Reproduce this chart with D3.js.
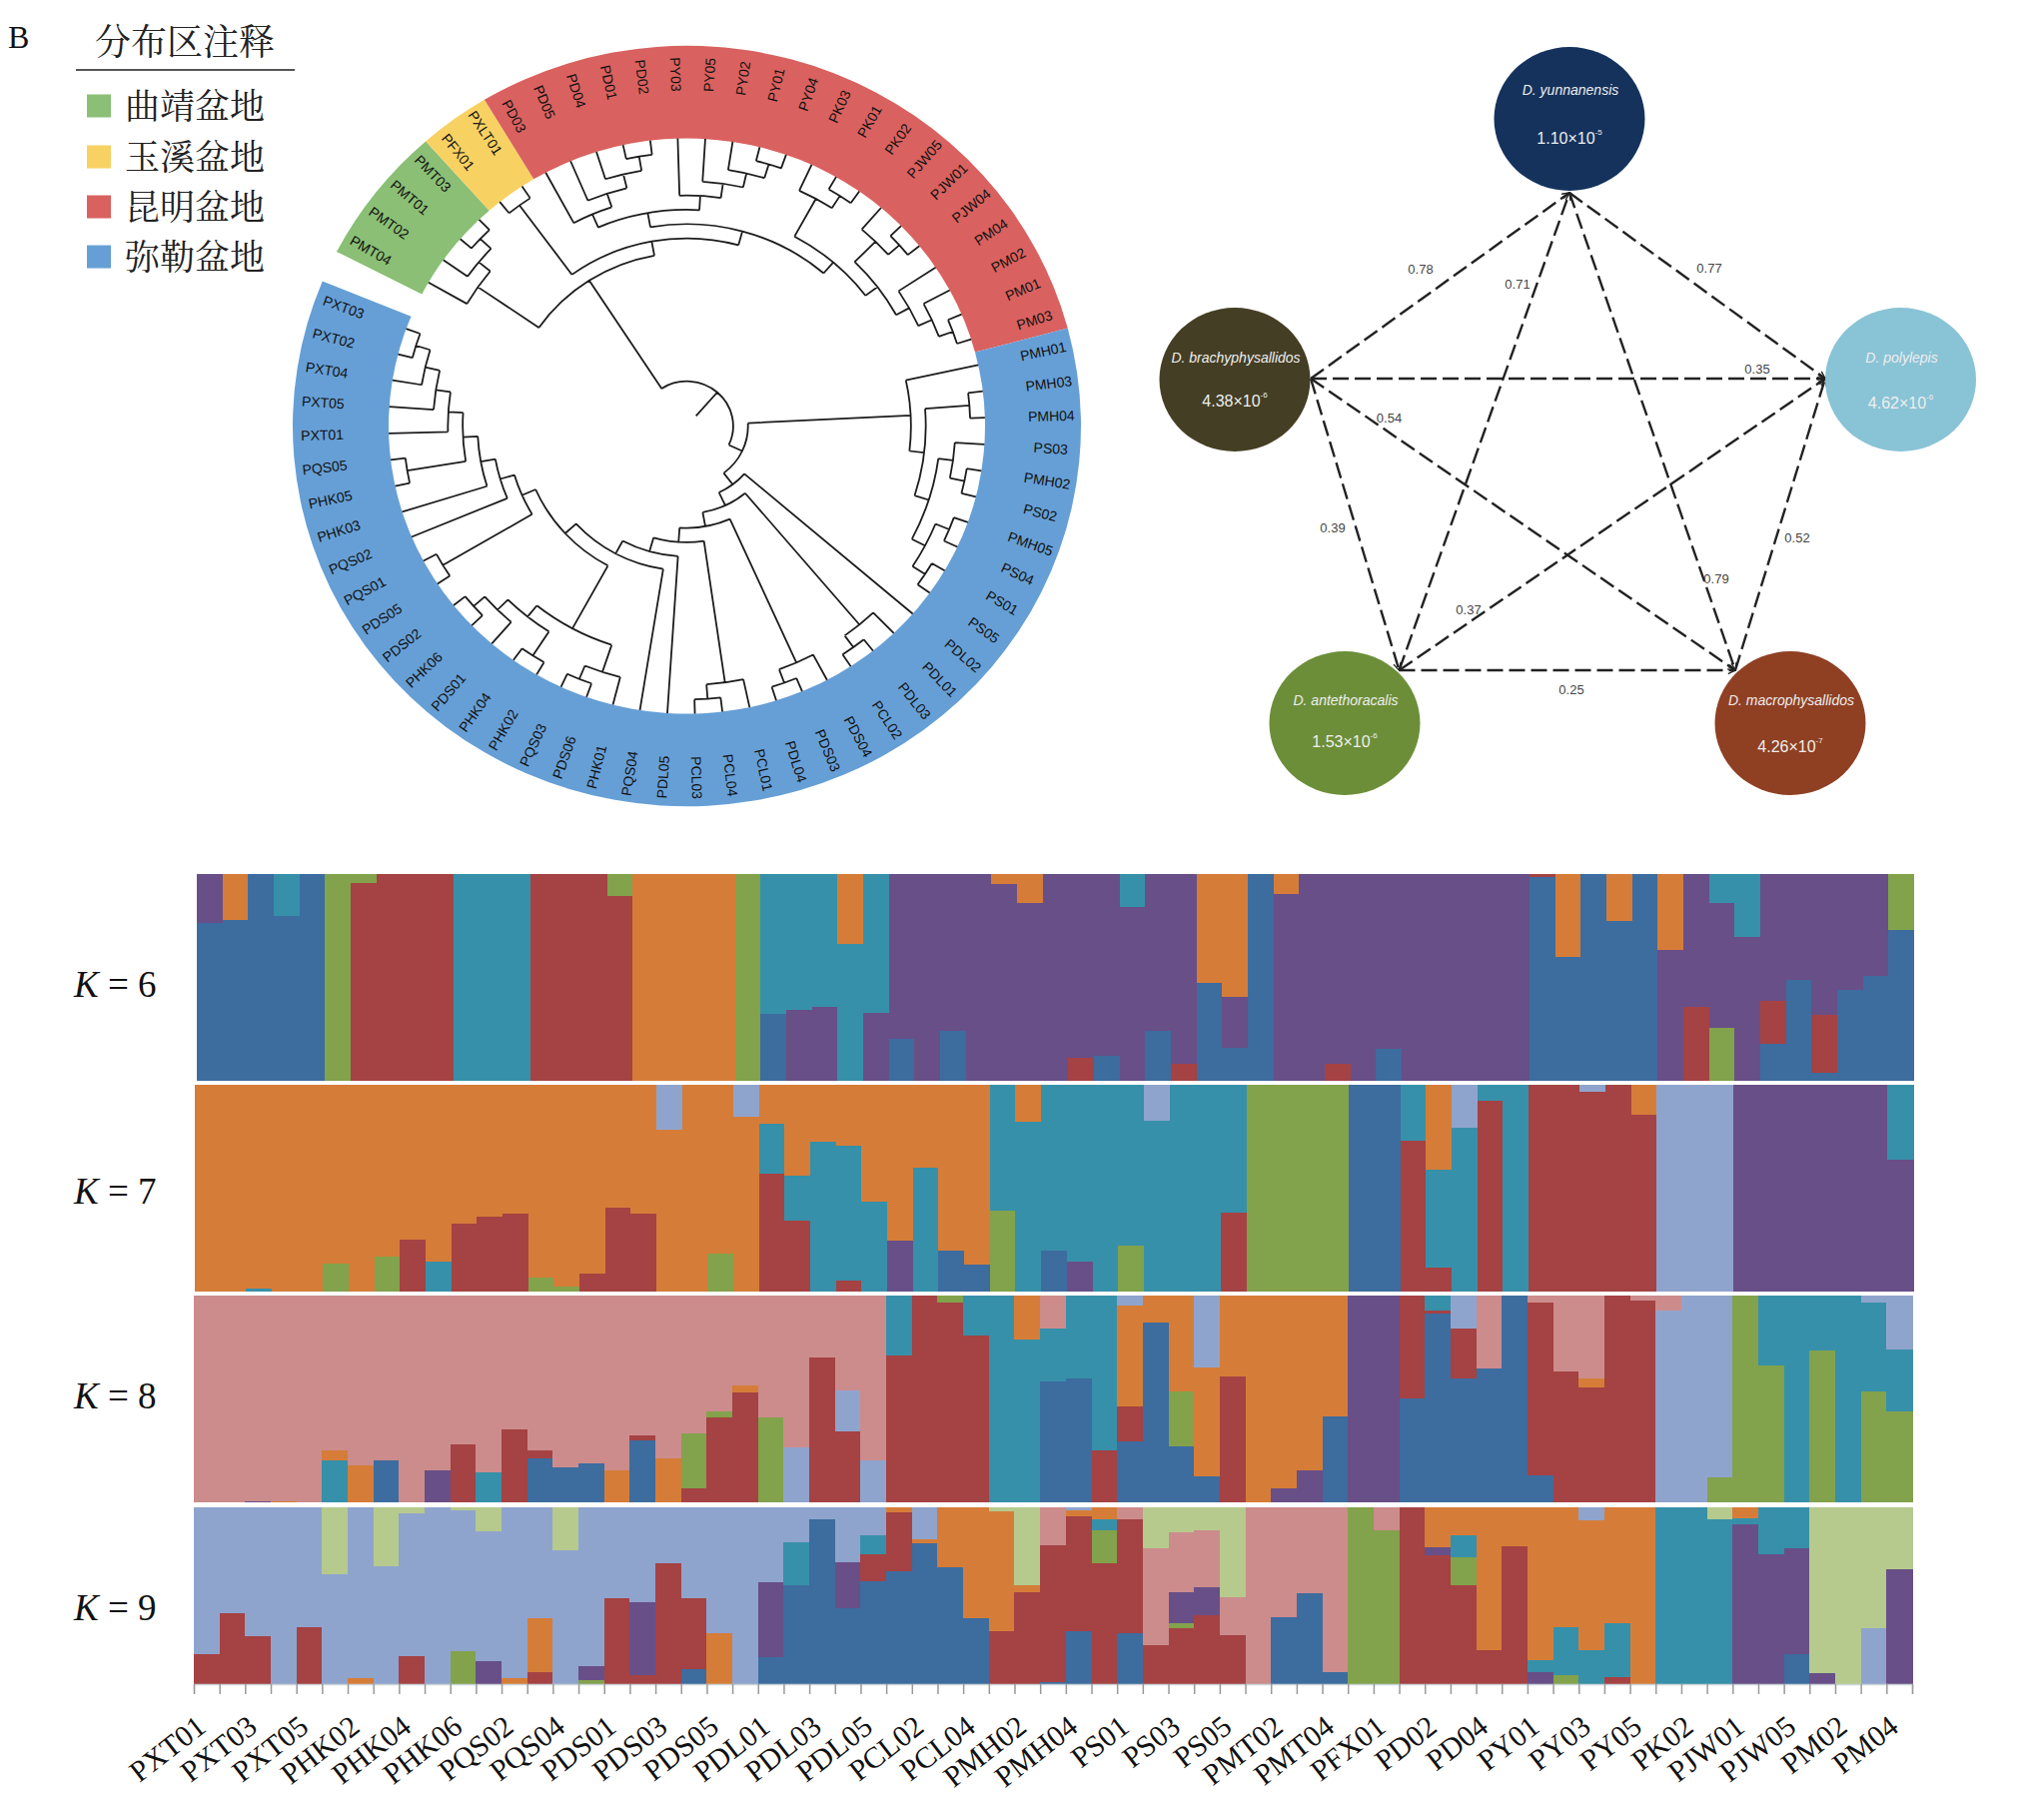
<!DOCTYPE html>
<html><head><meta charset="utf-8">
<script src="https://cdn.jsdelivr.net/npm/d3@7"></script>
<style>html,body{margin:0;background:#fff}svg{display:block}</style></head>
<body><svg id="c" width="2046" height="1799"></svg>
<script>
// ---------- DATA ----------
const sampleIds = ["PXT01","PXT02","PXT03","PXT04","PXT05","PHK01","PHK02","PHK03","PHK04","PHK05","PHK06","PQS01","PQS02","PQS03","PQS04","PQS05","PDS01","PDS02","PDS03","PDS04","PDS05","PDS06","PDL01","PDL02","PDL03","PDL04","PDL05","PCL01","PCL02","PCL03","PCL04","PMH01","PMH02","PMH03","PMH04","PMH05","PS01","PS02","PS03","PS04","PS05","PMT01","PMT02","PMT03","PMT04","PXLT01","PFX01","PD01","PD02","PD03","PD04","PD05","PY01","PY02","PY03","PY04","PY05","PK01","PK02","PK03","PJW01","PJW04","PJW05","PM01","PM02","PM03","PM04"];
const tickLabels = ["PXT01","PXT03","PXT05","PHK02","PHK04","PHK06","PQS02","PQS04","PDS01","PDS03","PDS05","PDL01","PDL03","PDL05","PCL02","PCL04","PMH02","PMH04","PS01","PS03","PS05","PMT02","PMT04","PFX01","PD02","PD04","PY01","PY03","PY05","PK02","PJW01","PJW05","PM02","PM04"];
// Each column, top to bottom: cluster letter + cumulative percent (no number = down to 100).
const k6 = ["P23.7 B","O22.3 B","B","T20.2 B","B","G","G4.5 R","R","R","R","T","T","T","R","R","R","G10.8 R","O","O","O","O","G","T67.4 B","T65.8 P","T64.4 P","O34 T","T67.3 P","P79.8 B","P","P75.8 B","P","O4.8 P","O14 P","P","P88.7 R","P87.9 B","T15.8 P","P75.8 B","P91.9 R","O52.7 B","O59.2 P84.2 B","B","O9.5 P","P","P91.9 R","P","P84.4 B","P","P","P","P","P","R1.6 B","O40.3 B","B","O22.6 B","B","O36.6 P","P64.2 R","T14 P74.5 G","T30.5 P","P61.3 R82.3 B","P51 B","P68.2 R96 B","P56 B","P49.5 B","G26.9 B"];
const k7 = ["O","O","O98.7 T","O","O","O86.5 G","O","O83 G","O74.9 R","O85.4 T","O67.2 R","O64 R","O62.2 R","O93 G","O97.7 G","O91.5 R","O59.3 R","O62.2 R","L21.7 O","O","O81.7 G","L15.3 O","O19 T42.8 R","O44 T65.8 R","O27.3 T","O29.3 T94.7 R","O56.6 T","O75.4 P","O40.2 T","O80.4 B","O86.8 B","T60.9 G","O17.7 T","T80 B","T85.5 P","T","T78 G","L17.2 T","T","T","T62 R","G","G","G","G","B","B","T27.2 R","O41 T88.3 R","L20.9 T","T7.6 R","T","R","R","L3.5 R","R","O14.3 R","L","L","L","P","P","P","P","P","P","T36.2 P"];
const k8 = ["K","K","K99.5 P","K99.5 O","K","K74.7 O79.7 T","K82.1 O","K79.9 B","K","K84.4 P","K72 R","K85.5 T","K64.7 R","K74.9 R78.7 B","K83.3 B","K81.3 B","K84.7 O","K67.5 R70.2 B","K78.7 O","K66.7 G93.4 R","K56.2 G58.9 R","K43.6 O46.9 R","K58.8 G","K73.6 L","K29.8 R","K45.7 L65.5 R","K79.9 L","T29 R","R","G3.2 R","T19.2 R","T","O21.3 T","K15.9 T41.4 B","T40.3 B","T75 R","L5 O53.8 R70.7 B","O13.2 B","O46.4 G73.1 B","L34.9 O87.6 B","O39.3 R","O","O93.4 P","O84.7 P","O58.6 B","P","P","R49.8 B","T7.1 R8.7 B","L15.9 R40 B","K35.3 B","B","K3.4 R86.8 B","K36.5 R","K40 O44.6 R","R","K2.2 R","K7.1 L","L","L88.1 G","G","T33.7 G","T","T26.4 G","T","L3.4 T46.2 G","L25.9 T55.9 G"];
const k9 = ["L83.2 R","L59.9 R","L72.8 R","L","L67.9 R","M37.8 L","L96.8 O","M33.3 L","M3.2 L84.1 R","L","M1.9 L81.3 G","M13.6 L86.8 P","L96.8 O","L62.8 O93.4 R","M24.4 L","L89.6 P97.7 G","L51.4 R","L53.7 P94.9 R","L31.8 R","L51.2 R91.5 B","L71.3 O","L","L42.5 P84.5 B","L19.7 T44.2 B","L7 B","L31 P57.1 B","L15.9 T26.7 R41.6 B","O2.6 R35.9 B","L17.8 O20.2 B","O33.8 B","O62.8 B","M2.3 O69.8 R","M43.9 O48 R","K21.2 R98.7 B","L1.7 O5.1 R69.8 B","O7 T13.2 G31.8 R","K6.8 R71.3 B","M23.1 K77.9 R","M14.2 K48 P65.8 G68.4 R","M13.2 K45.4 P61.2 R","M51 K72.2 R","K","K62.4 B","K48.4 B","K93.4 B","G","K12.9 G","R","O22.7 P27.2 R","O15.9 T28.2 G43.9 R","O80.7 R","O22.1 R","O86.4 T93 P","O68 T94.9 G","L7.4 O80.9 T","O65.6 T95.8 R","O","T","T","M7 T","O6 T9.5 P","T26.5 P","T23.1 P83.2 B","M94 P","M","M68.4 L","M35.3 P"];
const kValues = [6,7,8,9];
const clusterKeys = ["B","G","R","T","O","P","K","L","M"];

const basinNames = ["曲靖盆地","玉溪盆地","昆明盆地","弥勒盆地"];
const basinTipCounts = [4,2,20,41];

const cladeGreen = ["PMT04",["PMT02",["PMT01","PMT03"]]];
const cladeKunming = [[["PD03",["PD05",["PD04",["PD01","PD02"]]]],["PY03",["PY05",["PY02",["PY01","PY04"]]]]],
  [["PK03",["PK01","PK02"]],[["PJW05",["PJW01","PJW04"]],["PM04",["PM02",["PM01","PM03"]]]]]];
const cladeMile1 = ["PMH01",[["PMH03","PMH04"],[["PS03",["PMH02","PS02"]],[["PMH05","PS04"],["PS01","PS05"]]]]];
const cladeXT = ["PXT01",["PXT05",["PXT04",["PXT02","PXT03"]]]];
const cladeK3 = [[["PHK01",["PDS06","PQS03"]],[["PHK02","PHK04"],["PDS01",["PHK06","PDS02"]]]],
  [["PDS05","PQS01"],["PQS02",["PHK03",[["PHK05","PQS05"],cladeXT]]]]];
const cladeMile2 = ["PDL02",[["PDL01",["PDL03","PCL02"]],[["PDS04",["PDS03","PDL04"]],[["PCL01",["PCL04","PCL03"]],["PDL05",["PQS04",cladeK3]]]]]];
const treeData = [[cladeGreen,[["PFX01","PXLT01"],cladeKunming]],[cladeMile1,cladeMile2]];

const speciesNames = ["D. yunnanensis","D. brachyphysallidos","D. polylepis","D. antethoracalis","D. macrophysallidos"];
const speciesMantissa = ["1.10","4.38","4.62","1.53","4.26"];
const speciesExponent = ["-5","-6","-6","-6","-7"];
const edgeFrom = [1,3,0,0,1,1,1,3,4,3];
const edgeTo   = [0,0,2,4,2,4,3,2,2,4];
const edgeValues = ["0.78","0.71","0.77","0.79","0.35","0.54","0.39","0.37","0.52","0.25"];

// ---------- LAYOUT / STYLE ----------
const clusterColors = ["#3d6c9f","#82a24b","#a54243","#3790a9","#d57d38","#684f87","#cc8c8c","#8fa4cd","#b6ca8e"];
const basinColors = ["#8abf75","#f8d163","#d9615f","#669fd6"];
const rowLayout = [{x0:197,x1:1916,y0:875,y1:1082,base:998},{x0:195,x1:1915,y0:1086,y1:1293,base:1205},{x0:194,x1:1914,y0:1297,y1:1504,base:1410},{x0:194,x1:1914,y0:1509,y1:1686,base:1622}];
const ring = {cx:687.5,cy:426.5,sy:0.965,inner:298.5,outer:394.5,label:365,start:-62.7,end:292.4,rootTail:14};
const nodeLayout = [
  {x:1571,y:119,nameY:90,valueY:138,fill:"#14325c",ax:1571,ay:193},
  {x:1236,y:380,nameY:358,valueY:401,fill:"#443e24",ax:1312,ay:379},
  {x:1902.5,y:380,nameY:358,valueY:403,fill:"#89c3d6",ax:1827,ay:379},
  {x:1346,y:724,nameY:701,valueY:742,fill:"#6c8e38",ax:1400.5,ay:671},
  {x:1792,y:724,nameY:701,valueY:747,fill:"#8f4023",ax:1737,ay:671}];
const edgeLabelLayout = [[1422,269],[1519,284],[1711,268],[1718,579],[1759,369],[1390.5,418],[1334,528],[1470,610],[1799,538],[1573,690]];
const legendLayout = {sx:87,tx:125,size:24,ys:[106,157,207,257]};
const SERIF = "'Liberation Serif','Times New Roman',serif";
const SANS = "'Liberation Sans',Arial,sans-serif";
const CJK = "'Noto Serif CJK SC','Noto Sans CJK SC',sans-serif";

const svg = d3.select("#c");
const rad = d => d*Math.PI/180;

// ---------- HEADER & LEGEND ----------
svg.append("text").attr("x",8).attr("y",48).attr("font-family",SERIF).attr("font-size",32).attr("fill","#111").text("B");
svg.append("text").attr("x",95).attr("y",55).attr("font-family",CJK).attr("font-size",36).attr("fill","#222").text("分布区注释");
svg.append("line").attr("x1",76).attr("x2",295).attr("y1",70).attr("y2",70).attr("stroke","#555").attr("stroke-width",2);
const lg = svg.append("g").selectAll("g").data(basinNames).join("g");
lg.append("rect").attr("x",legendLayout.sx).attr("y",(d,i)=>legendLayout.ys[i]-11.5).attr("width",legendLayout.size).attr("height",23).attr("fill",(d,i)=>basinColors[i]);
lg.append("text").attr("x",legendLayout.tx).attr("y",(d,i)=>legendLayout.ys[i]+13).attr("font-family",CJK).attr("font-size",35).attr("fill","#222").text(d=>d);

// ---------- RING TREE ----------
const root = d3.hierarchy(treeData, d=>Array.isArray(d)?d:null);
const tips = root.leaves().map(d=>d.data);
const theta = d3.scaleBand().domain(tips).range([ring.start,ring.end]);
const radius = d3.scaleLinear().domain([0,root.height]).range([ring.inner,46.4]);
root.eachAfter(n=>{
  n.t = n.children ? (n.children[0].t + n.children[n.children.length-1].t)/2 : theta(n.data)+theta.bandwidth()/2;
  n.r = radius(n.height);
});
const polar = svg.append("g").attr("transform",`translate(${ring.cx},${ring.cy}) scale(1,${ring.sy})`);
let acc = 0;
const sectors = basinTipCounts.map((c,i)=>{const s={a0:theta(tips[acc]),a1:theta(tips[acc+c-1])+theta.bandwidth(),fill:basinColors[i]};acc+=c;return s;});
const arcGen = d3.arc().innerRadius(ring.inner).outerRadius(ring.outer).startAngle(d=>rad(d.a0)).endAngle(d=>rad(d.a1));
polar.selectAll("path.sector").data(sectors).join("path").attr("class","sector").attr("d",arcGen).attr("fill",d=>d.fill);
const treePath = d3.path();
root.each(n=>{
  const from = n.parent ? n.parent.r : ring.rootTail;
  const [x0,y0]=d3.pointRadial(rad(n.t),from), [x1,y1]=d3.pointRadial(rad(n.t),n.r);
  treePath.moveTo(x0,y0); treePath.lineTo(x1,y1);
  if(n.children){
    const a0=rad(n.children[0].t-90), a1=rad(n.children[n.children.length-1].t-90);
    treePath.moveTo(n.r*Math.cos(a0),n.r*Math.sin(a0));
    treePath.arc(0,0,n.r,a0,a1);
  }
});
polar.append("path").attr("d",treePath.toString()).attr("fill","none").attr("stroke","#1c1c1c").attr("stroke-width",1.8);
svg.append("g").selectAll("text").data(root.leaves()).join("text")
  .attr("font-family",SANS).attr("font-size",14).attr("fill","#111").attr("text-anchor","middle").attr("dominant-baseline","central")
  .attr("transform",d=>{
    const x=ring.cx+ring.label*Math.sin(rad(d.t)), y=ring.cy-ring.label*Math.cos(rad(d.t))*ring.sy;
    const rot=d.t>=0&&d.t<=180?d.t-90:d.t+90;
    return `translate(${x},${y}) rotate(${rot})`;
  }).text(d=>d.data);

// ---------- NETWORK ----------
svg.append("defs").append("marker").attr("id","ah").attr("viewBox","0 0 10 10").attr("refX",9).attr("refY",5)
  .attr("markerWidth",9).attr("markerHeight",9).attr("markerUnits","userSpaceOnUse").attr("orient","auto")
  .append("path").attr("d","M1,1L9,5L1,9").attr("fill","none").attr("stroke","#222").attr("stroke-width",1.5);
svg.append("g").selectAll("line").data(edgeValues).join("line")
  .attr("x1",(d,i)=>nodeLayout[edgeFrom[i]].ax).attr("y1",(d,i)=>nodeLayout[edgeFrom[i]].ay)
  .attr("x2",(d,i)=>nodeLayout[edgeTo[i]].ax).attr("y2",(d,i)=>nodeLayout[edgeTo[i]].ay)
  .attr("stroke","#222").attr("stroke-width",2.4).attr("stroke-dasharray","16 6").attr("marker-end","url(#ah)");
svg.append("g").selectAll("text").data(edgeValues).join("text")
  .attr("x",(d,i)=>edgeLabelLayout[i][0]).attr("y",(d,i)=>edgeLabelLayout[i][1]).attr("text-anchor","middle").attr("dominant-baseline","central")
  .attr("font-family",SANS).attr("font-size",13).attr("fill","#444").text(d=>d);
const ng = svg.append("g").selectAll("g").data(speciesNames).join("g");
ng.append("ellipse").attr("cx",(d,i)=>nodeLayout[i].x).attr("cy",(d,i)=>nodeLayout[i].y).attr("rx",75.5).attr("ry",72).attr("fill",(d,i)=>nodeLayout[i].fill);
ng.append("text").attr("x",(d,i)=>nodeLayout[i].x+1).attr("y",(d,i)=>nodeLayout[i].nameY).attr("text-anchor","middle").attr("dominant-baseline","central")
  .attr("font-family",SANS).attr("font-style","italic").attr("font-size",14).attr("fill","#eee").text(d=>d);
const vt = ng.append("text").attr("x",(d,i)=>nodeLayout[i].x).attr("y",(d,i)=>nodeLayout[i].valueY).attr("text-anchor","middle").attr("dominant-baseline","central")
  .attr("font-family",SANS).attr("font-size",16).attr("fill","#eee");
vt.append("tspan").text((d,i)=>speciesMantissa[i]+"×10");
vt.append("tspan").attr("dy",-6).attr("font-size",8).text((d,i)=>speciesExponent[i]);

// ---------- ADMIXTURE BARS ----------
const clusterColor = d3.scaleOrdinal().domain(clusterKeys).range(clusterColors);
function parseColumn(s){
  let prev=0;
  return s.split(" ").map(tok=>{
    const key=tok[0], upto=tok.length>1?+tok.slice(1):100, seg={key,from:prev,to:upto};
    prev=upto; return seg;
  });
}
[k6,k7,k8,k9].forEach((rows,ri)=>{
  const L=rowLayout[ri];
  const x=d3.scaleBand().domain(sampleIds).range([L.x0,L.x1]);
  const y=d3.scaleLinear().domain([0,100]).range([L.y0,L.y1]);
  const g=svg.append("g").attr("shape-rendering","crispEdges");
  g.selectAll("g").data(rows).join("g").attr("transform",(d,i)=>`translate(${x(sampleIds[i])},0)`)
    .selectAll("rect").data(d=>parseColumn(d)).join("rect")
    .attr("x",0).attr("width",x.bandwidth()+0.5).attr("y",d=>y(d.from)).attr("height",d=>y(d.to)-y(d.from)+0.3).attr("fill",d=>clusterColor(d.key));
  const t=svg.append("text").attr("x",74).attr("y",L.base).attr("font-family",SERIF).attr("font-size",37).attr("fill","#111");
  t.append("tspan").attr("font-style","italic").text("K");
  t.append("tspan").text(" = "+kValues[ri]);
});
const LB=rowLayout[3];
const edgeScale=d3.scaleLinear().domain([0,sampleIds.length]).range([LB.x0,LB.x1]);
const tickAxis=d3.axisBottom(edgeScale).tickValues(d3.range(0,sampleIds.length+1)).tickSize(10).tickFormat("");
const ax=svg.append("g").attr("transform",`translate(0,${LB.y1})`).call(tickAxis);
ax.select(".domain").attr("stroke","#c9d4d8").attr("stroke-width",1.5);
ax.selectAll(".tick line").attr("stroke","#999").attr("stroke-width",1.5);
const labelScale=d3.scaleBand().domain(sampleIds).range([LB.x0,LB.x1]);
const labelAxis=d3.axisBottom(labelScale).tickValues(tickLabels).tickSize(0);
const ax2=svg.append("g").attr("transform",`translate(0,${LB.y1})`).call(labelAxis);
ax2.select(".domain").remove();
ax2.selectAll("text").attr("font-family",SERIF).attr("font-size",30).attr("fill","#111")
  .attr("text-anchor","end").attr("dominant-baseline","auto")
  .attr("dy",null).attr("y",null)
  .attr("transform","translate(1,46) rotate(-38)");
</script></body></html>
